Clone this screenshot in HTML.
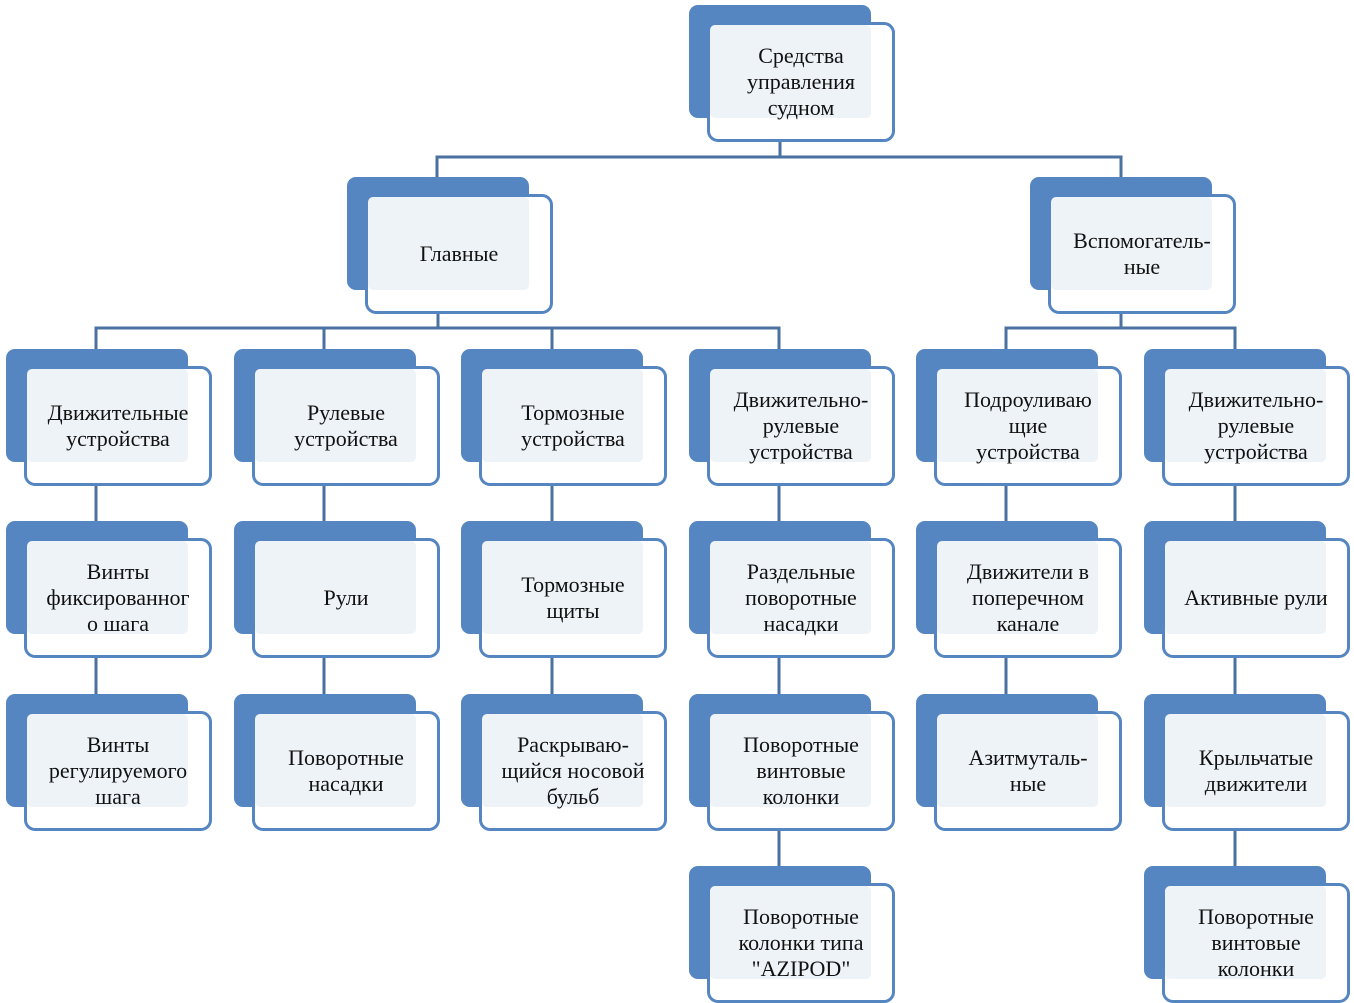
<!DOCTYPE html>
<html><head><meta charset="utf-8"><style>
body{margin:0;width:1354px;height:1003px;background:#fff;position:relative;overflow:hidden}
svg{position:absolute;left:0;top:0}
.n{position:absolute;width:206px;height:137px}
.b{position:absolute;left:0;top:0;width:182px;height:113px;background:#5586c1;border-radius:9px}
.f{position:absolute;left:18px;top:17px;width:188px;height:120px;box-sizing:border-box;border:3px solid #5586c1;border-radius:11px;background:#fff}
.o{position:absolute;left:21px;top:20px;width:161px;height:93px;background:#eef3f8;border-radius:5px}
.t{position:absolute;left:18px;top:17px;width:188px;height:120px;display:flex;align-items:center;justify-content:center;text-align:center;font-family:"Liberation Serif","Noto Serif CJK SC",serif;font-size:22px;line-height:26px;color:#111;white-space:nowrap}
</style></head><body>
<svg width="1354" height="1003" stroke="#4a71a0" stroke-width="3" fill="none">
<path d="M780 140V157M437 177V157H1121V177"/>
<path d="M438 312V328M96 349V328H779V349M324 328V349M552 328V349"/>
<path d="M1121 312V328M1006 349V328H1235V349"/>
<path d="M96 486V521M96 658V694M324 486V521M324 658V694M552 486V521M552 658V694M779 486V521M779 658V694M779 830V866M1006 486V521M1006 658V694M1235 486V521M1235 658V694M1235 830V866"/>
</svg>

<div class="n" style="left:689px;top:5px"><div class="b"></div><div class="f"></div><div class="o"></div><div class="t">Средства<br>управления<br>судном</div></div>

<div class="n" style="left:347px;top:177px"><div class="b"></div><div class="f"></div><div class="o"></div><div class="t">Главные</div></div>
<div class="n" style="left:1030px;top:177px"><div class="b"></div><div class="f"></div><div class="o"></div><div class="t">Вспомогатель-<br>ные</div></div>

<div class="n" style="left:6px;top:349px"><div class="b"></div><div class="f"></div><div class="o"></div><div class="t">Движительные<br>устройства</div></div>
<div class="n" style="left:234px;top:349px"><div class="b"></div><div class="f"></div><div class="o"></div><div class="t">Рулевые<br>устройства</div></div>
<div class="n" style="left:461px;top:349px"><div class="b"></div><div class="f"></div><div class="o"></div><div class="t">Тормозные<br>устройства</div></div>
<div class="n" style="left:689px;top:349px"><div class="b"></div><div class="f"></div><div class="o"></div><div class="t">Движительно-<br>рулевые<br>устройства</div></div>
<div class="n" style="left:916px;top:349px"><div class="b"></div><div class="f"></div><div class="o"></div><div class="t">Подроуливаю<br>щие<br>устройства</div></div>
<div class="n" style="left:1144px;top:349px"><div class="b"></div><div class="f"></div><div class="o"></div><div class="t">Движительно-<br>рулевые<br>устройства</div></div>

<div class="n" style="left:6px;top:521px"><div class="b"></div><div class="f"></div><div class="o"></div><div class="t">Винты<br>фиксированног<br>о шага</div></div>
<div class="n" style="left:234px;top:521px"><div class="b"></div><div class="f"></div><div class="o"></div><div class="t">Рули</div></div>
<div class="n" style="left:461px;top:521px"><div class="b"></div><div class="f"></div><div class="o"></div><div class="t">Тормозные<br>щиты</div></div>
<div class="n" style="left:689px;top:521px"><div class="b"></div><div class="f"></div><div class="o"></div><div class="t">Раздельные<br>поворотные<br>насадки</div></div>
<div class="n" style="left:916px;top:521px"><div class="b"></div><div class="f"></div><div class="o"></div><div class="t">Движители в<br>поперечном<br>канале</div></div>
<div class="n" style="left:1144px;top:521px"><div class="b"></div><div class="f"></div><div class="o"></div><div class="t">Активные рули</div></div>

<div class="n" style="left:6px;top:694px"><div class="b"></div><div class="f"></div><div class="o"></div><div class="t">Винты<br>регулируемого<br>шага</div></div>
<div class="n" style="left:234px;top:694px"><div class="b"></div><div class="f"></div><div class="o"></div><div class="t">Поворотные<br>насадки</div></div>
<div class="n" style="left:461px;top:694px"><div class="b"></div><div class="f"></div><div class="o"></div><div class="t">Раскрываю-<br>щийся носовой<br>бульб</div></div>
<div class="n" style="left:689px;top:694px"><div class="b"></div><div class="f"></div><div class="o"></div><div class="t">Поворотные<br>винтовые<br>колонки</div></div>
<div class="n" style="left:916px;top:694px"><div class="b"></div><div class="f"></div><div class="o"></div><div class="t">Азитмуталь-<br>ные</div></div>
<div class="n" style="left:1144px;top:694px"><div class="b"></div><div class="f"></div><div class="o"></div><div class="t">Крыльчатые<br>движители</div></div>

<div class="n" style="left:689px;top:866px"><div class="b"></div><div class="f"></div><div class="o"></div><div class="t">Поворотные<br>колонки типа<br>"AZIPOD"</div></div>
<div class="n" style="left:1144px;top:866px"><div class="b"></div><div class="f"></div><div class="o"></div><div class="t">Поворотные<br>винтовые<br>колонки</div></div>
</body></html>
